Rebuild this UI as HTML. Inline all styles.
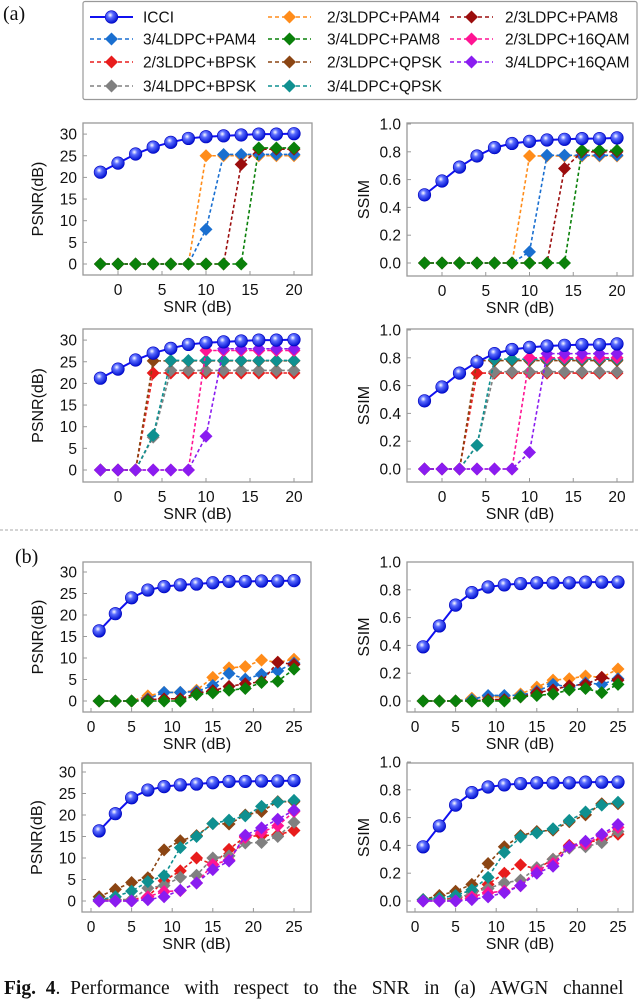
<!DOCTYPE html>
<html><head><meta charset="utf-8">
<style>
html,body{margin:0;padding:0;background:#fff;}
body{width:640px;height:991px;overflow:hidden;position:relative;font-family:"Liberation Sans",sans-serif;}
#cap{position:absolute;left:4px;top:978px;width:660px;font-family:"Liberation Serif",serif;font-size:19.5px;white-space:nowrap;color:#111;}
</style></head>
<body>
<svg id="fig" width="640" height="991" viewBox="0 0 640 991" xmlns="http://www.w3.org/2000/svg" style="position:absolute;left:0;top:0">
<defs>
<radialGradient id="ball" cx="0.4" cy="0.35" r="0.65">
<stop offset="0" stop-color="#ffffff"/><stop offset="0.35" stop-color="#5a6cff"/><stop offset="1" stop-color="#0010d0"/>
</radialGradient>
</defs>
</svg>
<div id="cap"><b>Fig.&nbsp; 4</b>.&nbsp; Performance&nbsp;&nbsp; with&nbsp;&nbsp; respect&nbsp;&nbsp; to&nbsp;&nbsp; the&nbsp;&nbsp; SNR&nbsp;&nbsp; in&nbsp;&nbsp; (a)&nbsp;&nbsp; AWGN&nbsp;&nbsp; channel</div>
<script>
// ---- data ----
const seriesNames = ["ICCI","2/3LDPC+PAM4","2/3LDPC+PAM8","3/4LDPC+PAM4","3/4LDPC+PAM8","2/3LDPC+16QAM","2/3LDPC+BPSK","2/3LDPC+QPSK","3/4LDPC+16QAM","3/4LDPC+BPSK","3/4LDPC+QPSK"];
const seriesColors = ["#1010f0","#ff8c1a","#9b0d0d","#1a6fd0","#0a800a","#ff1493","#e81c1c","#8b4513","#8a1cf0","#808080","#0f9090"];
const snrA = [-2,0,2,4,6,8,10,12,14,16,18,20];
const snrB = [1,3,5,7,9,11,13,15,17,19,21,23,25];
const xTicksA = [0,5,10,15,20];
const xTicksB = [0,5,10,15,20,25];
const psnrTicks = [0,5,10,15,20,25,30];
const ssimTicks = [0,0.2,0.4,0.6,0.8,1.0];
const ssimTickLabels = ["0.0","0.2","0.4","0.6","0.8","1.0"];

// (a) top: PSNR
const a1P_icci = [21.2,23.3,25.4,27,28.1,29,29.4,29.6,29.8,30,30,30.1];
const a1P_o = [0,0,0,0,0,0,25,25,25,25,25,25];
const a1P_b = [0,0,0,0,0,0,8,25.3,25.3,25.3,25.3,25.3];
const a1P_r = [0,0,0,0,0,0,0,0,23,26.5,26.5,26.5];
const a1P_g = [0,0,0,0,0,0,0,0,0,26.8,26.8,26.8];
// (a) top: SSIM
const a1S_icci = [0.49,0.59,0.69,0.77,0.83,0.86,0.875,0.885,0.89,0.895,0.895,0.9];
const a1S_o = [0,0,0,0,0,0,0.77,0.77,0.77,0.77,0.77,0.77];
const a1S_b = [0,0,0,0,0,0,0.08,0.775,0.775,0.775,0.775,0.775];
const a1S_r = [0,0,0,0,0,0,0,0,0.68,0.8,0.8,0.8];
const a1S_g = [0,0,0,0,0,0,0,0,0,0.81,0.81,0.81];
// (a) bottom: PSNR
const a2P_red = [0,0,0,22.4,22.4,22.4,22.4,22.4,22.4,22.4,22.4,22.4];
const a2P_brown = [0,0,0,25.2,25.2,25.2,25.2,25.2,25.2,25.2,25.2,25.2];
const a2P_gray = [0,0,0,7.6,23,23,23,23,23,23,23,23];
const a2P_teal = [0,0,0,8,25.3,25.3,25.3,25.3,25.3,25.3,25.3,25.3];
const a2P_pink = [0,0,0,0,0,0,27.6,27.6,27.6,27.6,27.6,27.6];
const a2P_purple = [0,0,0,0,0,0,7.8,28,28,28,28,28];
// (a) bottom: SSIM
const a2S_red = [0,0,0,0.69,0.69,0.69,0.69,0.69,0.69,0.69,0.69,0.69];
const a2S_brown = [0,0,0,0.78,0.78,0.78,0.78,0.78,0.78,0.78,0.78,0.78];
const a2S_gray = [0,0,0,0.17,0.7,0.7,0.7,0.7,0.7,0.7,0.7,0.7];
const a2S_teal = [0,0,0,0.17,0.79,0.79,0.79,0.79,0.79,0.79,0.79,0.79];
const a2S_pink = [0,0,0,0,0,0,0.8,0.8,0.8,0.8,0.8,0.8];
const a2S_purple = [0,0,0,0,0,0,0.12,0.83,0.83,0.83,0.83,0.83];
// (b)
const bP_icci = [16.3,20.3,24,25.8,26.6,27,27.2,27.5,27.8,27.8,27.9,27.9,28];
const bS_icci = [0.39,0.54,0.69,0.78,0.82,0.835,0.845,0.85,0.85,0.85,0.855,0.855,0.855];
const b1P_o = [0,0,0,1.2,2,2,2.5,5.5,7.7,8,9.5,9,9.7];
const b1P_b = [0,0,0,0.5,2,2,2.2,3.6,6.4,5.1,6.2,7,8.8];
const b1P_r = [0,0,0,0.3,0.5,0.5,1.8,2.4,3.4,4,4.5,9,8.5];
const b1P_g = [0,0,0,0,0,0,1.5,1.9,2.5,2.9,4.3,4.6,7.4];
const b1S_o = [0,0,0,0.02,0.03,0.03,0.05,0.1,0.15,0.16,0.18,0.17,0.23];
const b1S_b = [0,0,0,0.01,0.04,0.04,0.04,0.07,0.12,0.1,0.13,0.12,0.16];
const b1S_r = [0,0,0,0,0.01,0.01,0.03,0.06,0.08,0.11,0.12,0.17,0.15];
const b1S_g = [0,0,0,0,0,0,0.03,0.04,0.05,0.08,0.09,0.06,0.12];
const b2P_brown = [1,2.7,4.3,5.4,11.9,14,15.2,18,17.9,20,20.8,23.1,23.1];
const b2P_teal = [0.3,1,2.3,4.5,5.9,12.4,15,18,18.8,19.8,22,23,23.4];
const b2P_red = [0.3,0.3,0.3,1,4.7,7,10,8.5,12,15,15.2,15.4,16.4];
const b2P_gray = [0,0.3,0.3,3,3.6,5.5,6,10,10.5,13.5,13.6,15,18.3];
const b2P_pink = [0,0,0,1,2.2,2.4,4.2,8.5,9.5,14.8,16,17.5,20.8];
const b2P_purple = [0,0,0,0.3,1,2.5,4.2,7.3,9.3,15.3,17,19,21.1];
const b2S_brown = [0.01,0.04,0.07,0.12,0.27,0.39,0.47,0.5,0.51,0.57,0.62,0.7,0.7];
const b2S_teal = [0.01,0.02,0.04,0.08,0.17,0.35,0.46,0.49,0.52,0.58,0.64,0.69,0.71];
const b2S_red = [0.01,0.01,0.02,0.04,0.12,0.2,0.26,0.23,0.3,0.4,0.42,0.44,0.48];
const b2S_gray = [0,0.01,0.01,0.06,0.09,0.13,0.15,0.24,0.3,0.38,0.39,0.42,0.5];
const b2S_pink = [0,0,0,0.03,0.06,0.07,0.11,0.22,0.27,0.39,0.41,0.47,0.53];
const b2S_purple = [0,0,0,0.01,0.03,0.06,0.11,0.2,0.25,0.39,0.43,0.48,0.55];

const NS="http://www.w3.org/2000/svg";
const svg=document.getElementById('fig');
function mk(tag,attrs,parent){const e=document.createElementNS(NS,tag);for(const k in attrs)e.setAttribute(k,attrs[k]);(parent||svg).appendChild(e);return e;}
function txt(s,attrs,parent){const e=mk('text',attrs,parent);e.textContent=s;return e;}

function diamond(g,x,y,c){const r=6.5;return mk('polygon',{points:`${x},${y-r} ${x+r},${y} ${x},${y+r} ${x-r},${y}`,fill:c},g);}
function ball(g,x,y){return mk('circle',{cx:x,cy:y,r:6.3,fill:'url(#ball)',stroke:'#0000c0','stroke-width':0.6},g);}

function panel(name,box,xs,ticksX,ys,ticksY,tickLbl,yTitle,series){
  const g=mk('g',{});
  
  
  const X=v=>xs.x0+(v-xs.v0)*xs.k;
  const Y=v=>ys.y0-v*ys.k;
  mk('rect',{x:box.l,y:box.t,width:box.r-box.l,height:box.b-box.t,fill:'none',stroke:'#999','stroke-width':1.3},g);
  ticksX.forEach(v=>{
    mk('line',{x1:X(v),x2:X(v),y1:box.b,y2:box.b-4,stroke:'#999','stroke-width':1},g);
    const t=txt(String(v),{x:X(v),y:box.b+20,'text-anchor':'middle','font-size':15.5,fill:'#111'},g);
    
    
  });
  ticksY.forEach((v,i)=>{
    mk('line',{x1:box.l,x2:box.l+4,y1:Y(v),y2:Y(v),stroke:'#999','stroke-width':1},g);
    const t=txt(tickLbl[i],{x:box.l-6,y:Y(v)+5.5,'text-anchor':'end','font-size':15.5,fill:'#111'},g);
    
    
  });
  const xt=txt('SNR (dB)',{x:(box.l+box.r)/2,y:box.b+37,'text-anchor':'middle','font-size':16,fill:'#111'},g);
  
  
  const yc=(box.t+box.b)/2, yx=box.l-(yTitle==='SSIM'?38:40);
  const yt=txt(yTitle,{x:yx,y:yc,'text-anchor':'middle','font-size':16,fill:'#111',transform:`rotate(-90 ${yx} ${yc})`},g);
  
  
  series.forEach(s=>{
    const sg=mk('g',{},g);
    
    
    const pts=s.x.map((v,i)=>X(v)+','+Y(s.y[i])).join(' ');
    if(s.icci){
      mk('polyline',{points:pts,fill:'none',stroke:s.c,'stroke-width':2},sg);
      s.x.forEach((v,i)=>ball(sg,X(v),Y(s.y[i])));
    }else{
      mk('polyline',{points:pts,fill:'none',stroke:s.c,'stroke-width':1.6,'stroke-dasharray':'3.5,2.5'},sg);
      s.x.forEach((v,i)=>diamond(sg,X(v),Y(s.y[i]),s.c));
    }
  });
}
const C=n=>seriesColors[seriesNames.indexOf(n)];
const S=(n,x,y)=>({name:n,x:x,y:y,c:C(n),icci:n==='ICCI'});
const pT=psnrTicks.map(String);
const dx=324;
const xsA={x0:118,v0:0,k:8.8}, xsAR={x0:118+dx,v0:0,k:8.75};
const xsB={x0:91,v0:0,k:8.12}, xsBR={x0:91+dx,v0:0,k:8.12};

panel('psnr-awgn-pam',{l:83,r:312,t:123,b:275},xsA,xTicksA,{y0:264,k:4.33},psnrTicks,pT,'PSNR(dB)',[
  S('2/3LDPC+PAM4',snrA,a1P_o),S('3/4LDPC+PAM4',snrA,a1P_b),S('2/3LDPC+PAM8',snrA,a1P_r),S('3/4LDPC+PAM8',snrA,a1P_g),S('ICCI',snrA,a1P_icci)]);
panel('ssim-awgn-pam',{l:407,r:633,t:123,b:276},xsAR,xTicksA,{y0:263,k:139},ssimTicks,ssimTickLabels,'SSIM',[
  S('2/3LDPC+PAM4',snrA,a1S_o),S('3/4LDPC+PAM4',snrA,a1S_b),S('2/3LDPC+PAM8',snrA,a1S_r),S('3/4LDPC+PAM8',snrA,a1S_g),S('ICCI',snrA,a1S_icci)]);
panel('psnr-awgn-qam',{l:83,r:312,t:329,b:482},xsA,xTicksA,{y0:470,k:4.33},psnrTicks,pT,'PSNR(dB)',[
  S('2/3LDPC+BPSK',snrA,a2P_red),S('3/4LDPC+BPSK',snrA,a2P_gray),S('2/3LDPC+QPSK',snrA,a2P_brown),S('3/4LDPC+QPSK',snrA,a2P_teal),S('2/3LDPC+16QAM',snrA,a2P_pink),S('3/4LDPC+16QAM',snrA,a2P_purple),S('ICCI',snrA,a1P_icci)]);
panel('ssim-awgn-qam',{l:407,r:633,t:329,b:482},xsAR,xTicksA,{y0:469,k:139},ssimTicks,ssimTickLabels,'SSIM',[
  S('2/3LDPC+BPSK',snrA,a2S_red),S('3/4LDPC+BPSK',snrA,a2S_gray),S('2/3LDPC+QPSK',snrA,a2S_brown),S('3/4LDPC+QPSK',snrA,a2S_teal),S('2/3LDPC+16QAM',snrA,a2S_pink),S('3/4LDPC+16QAM',snrA,a2S_purple),S('ICCI',snrA,a1S_icci)]);
panel('psnr-b-pam',{l:83,r:311,t:562,b:712},xsB,xTicksB,{y0:701,k:4.3},psnrTicks,pT,'PSNR(dB)',[
  S('2/3LDPC+PAM4',snrB,b1P_o),S('3/4LDPC+PAM4',snrB,b1P_b),S('2/3LDPC+PAM8',snrB,b1P_r),S('3/4LDPC+PAM8',snrB,b1P_g),S('ICCI',snrB,bP_icci)]);
panel('ssim-b-pam',{l:407,r:633,t:562,b:712},xsBR,xTicksB,{y0:701,k:139},ssimTicks,ssimTickLabels,'SSIM',[
  S('2/3LDPC+PAM4',snrB,b1S_o),S('3/4LDPC+PAM4',snrB,b1S_b),S('2/3LDPC+PAM8',snrB,b1S_r),S('3/4LDPC+PAM8',snrB,b1S_g),S('ICCI',snrB,bS_icci)]);
panel('psnr-b-qam',{l:82,r:311,t:763,b:912},xsB,xTicksB,{y0:901,k:4.3},psnrTicks,pT,'PSNR(dB)',[
  S('2/3LDPC+BPSK',snrB,b2P_red),S('3/4LDPC+BPSK',snrB,b2P_gray),S('2/3LDPC+QPSK',snrB,b2P_brown),S('3/4LDPC+QPSK',snrB,b2P_teal),S('2/3LDPC+16QAM',snrB,b2P_pink),S('3/4LDPC+16QAM',snrB,b2P_purple),S('ICCI',snrB,bP_icci)]);
panel('ssim-b-qam',{l:407,r:633,t:763,b:912},xsBR,xTicksB,{y0:901,k:139},ssimTicks,ssimTickLabels,'SSIM',[
  S('2/3LDPC+BPSK',snrB,b2S_red),S('3/4LDPC+BPSK',snrB,b2S_gray),S('2/3LDPC+QPSK',snrB,b2S_brown),S('3/4LDPC+QPSK',snrB,b2S_teal),S('2/3LDPC+16QAM',snrB,b2S_pink),S('3/4LDPC+16QAM',snrB,b2S_purple),S('ICCI',snrB,bS_icci)]);

const lg=mk('g',{});


mk('rect',{x:83,y:1.5,width:554,height:98,rx:2,fill:'#fff',stroke:'#999','stroke-width':1.2},lg);
const legOrder=[["ICCI","2/3LDPC+PAM4","2/3LDPC+PAM8"],["3/4LDPC+PAM4","3/4LDPC+PAM8","2/3LDPC+16QAM"],["2/3LDPC+BPSK","2/3LDPC+QPSK","3/4LDPC+16QAM"],["3/4LDPC+BPSK","3/4LDPC+QPSK",null]];
const rowY=[17,39,62,86], colX=[[90,133,143],[268,311,327],[450,493,505]];
legOrder.forEach((row,ri)=>row.forEach((n,ci)=>{
  if(!n)return;
  const e=mk('g',{},lg);
  
  
  const [x1,x2,tx]=colX[ci], y=rowY[ri], c=C(n), mx=(x1+x2)/2;
  if(n==='ICCI'){mk('line',{x1:x1,x2:x2,y1:y,y2:y,stroke:c,'stroke-width':2},e);ball(e,mx,y);}
  else{mk('line',{x1:x1,x2:x2,y1:y,y2:y,stroke:c,'stroke-width':1.6,'stroke-dasharray':'4,3'},e);diamond(e,mx,y,c);}
  txt(n,{x:tx,y:y+5.5,'font-size':15.5,fill:'#111'},e);
}));

const la=txt('(a)',{x:3,y:20,'font-size':20,'font-family':'Liberation Serif, serif',fill:'#111'});


const lb=txt('(b)',{x:15,y:563,'font-size':20,'font-family':'Liberation Serif, serif',fill:'#111'});


const sep=mk('line',{x1:0,x2:640,y1:530,y2:530,stroke:'#aaa','stroke-width':1,'stroke-dasharray':'3,2'});


</script>
</body></html>
